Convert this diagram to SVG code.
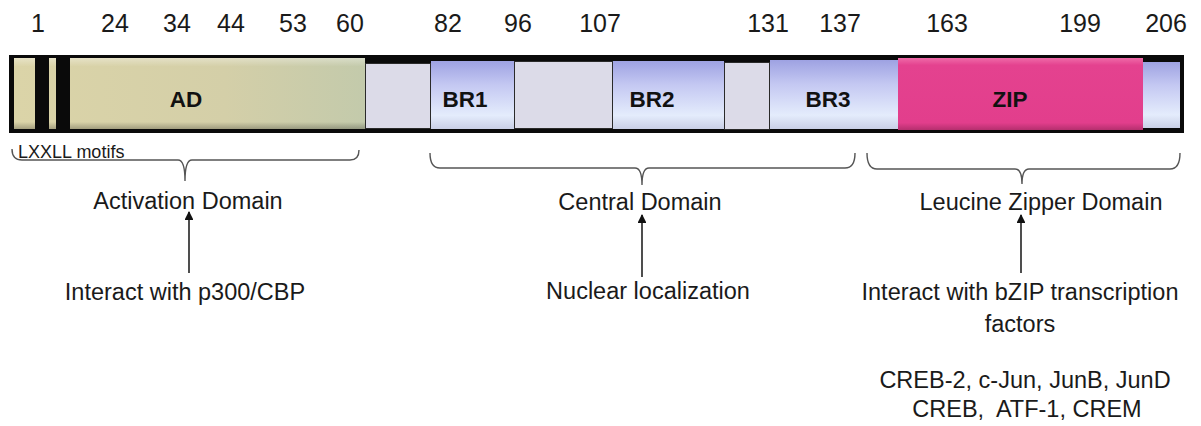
<svg xmlns="http://www.w3.org/2000/svg" width="1201" height="426" viewBox="0 0 1201 426">
<style>
.num{font-family:"Liberation Sans",Arial,sans-serif;font-size:25px;fill:#1a1a1a;text-anchor:middle}
.lbl{font-family:"Liberation Sans",Arial,sans-serif;font-size:22.5px;font-weight:bold;fill:#111;text-anchor:middle}
.txt{font-family:"Liberation Sans",Arial,sans-serif;font-size:23.5px;fill:#1a1a1a;text-anchor:middle}
.sm{font-family:"Liberation Sans",Arial,sans-serif;font-size:18px;fill:#1a1a1a}
.grey{fill:#dcdbe8;stroke:#2a2a2a;stroke-width:1}
.blue{fill:url(#gBlue)}
.brace{fill:none;stroke:#555;stroke-width:1.4}
.arr{stroke:#222;stroke-width:1.6;marker-end:url(#ah)}
</style>
<defs>
<linearGradient id="gBlue" x1="0" y1="0" x2="0" y2="1">
<stop offset="0" stop-color="#9ea2e2"/>
<stop offset="0.35" stop-color="#c4c8f2"/>
<stop offset="0.8" stop-color="#e4ecfc"/>
<stop offset="1" stop-color="#c9cfe6"/>
</linearGradient>
<linearGradient id="gAD" x1="0" y1="0" x2="1" y2="0">
<stop offset="0" stop-color="#dbd4a8"/>
<stop offset="0.6" stop-color="#d4cfa8"/>
<stop offset="1" stop-color="#c3caab"/>
</linearGradient>
<linearGradient id="gADv" x1="0" y1="0" x2="0" y2="1">
<stop offset="0" stop-color="#ffffff" stop-opacity="0.35"/>
<stop offset="0.12" stop-color="#ffffff" stop-opacity="0"/>
<stop offset="0.9" stop-color="#000000" stop-opacity="0"/>
<stop offset="1" stop-color="#000000" stop-opacity="0.25"/>
</linearGradient>
<linearGradient id="gZIP" x1="0" y1="0" x2="0" y2="1">
<stop offset="0" stop-color="#ef6aa8"/>
<stop offset="0.1" stop-color="#e4428f"/>
<stop offset="0.9" stop-color="#e23e8c"/>
<stop offset="1" stop-color="#b52f6e"/>
</linearGradient>
<marker id="ah" viewBox="0 0 10 10" refX="9" refY="5" markerWidth="6.5" markerHeight="5.5" orient="auto" markerUnits="strokeWidth">
<path d="M0,0 L10,5 L0,10 z" fill="#111"/>
</marker>
</defs>

<g id="numbers">
<text class="num" x="38" y="32">1</text>
<text class="num" x="115" y="32">24</text>
<text class="num" x="177" y="32">34</text>
<text class="num" x="231" y="32">44</text>
<text class="num" x="293" y="32">53</text>
<text class="num" x="350" y="32">60</text>
<text class="num" x="448" y="32">82</text>
<text class="num" x="518" y="32">96</text>
<text class="num" x="600" y="32">107</text>
<text class="num" x="768" y="32">131</text>
<text class="num" x="840" y="32">137</text>
<text class="num" x="947" y="32">163</text>
<text class="num" x="1080" y="32">199</text>
<text class="num" x="1166" y="32">206</text>
</g>

<g id="bar">
<rect x="9" y="55" width="1175" height="78" fill="#0a0a0a"/>
</g>

<g id="AD">
<rect x="14" y="58" width="351" height="71" fill="url(#gAD)"/>
<rect x="14" y="58" width="351" height="71" fill="url(#gADv)"/>
<rect x="35" y="56" width="14" height="76" fill="#0a0a0a"/>
<rect x="56" y="56" width="14" height="76" fill="#0a0a0a"/>
<text class="lbl" x="186" y="107">AD</text>
</g>

<g id="gap1"><rect class="grey" x="365.5" y="63.5" width="65" height="65"/></g>
<g id="BR1">
<rect class="blue" x="431" y="61" width="83" height="68"/>
<text class="lbl" x="465" y="107">BR1</text>
</g>
<g id="gap2"><rect class="grey" x="514.5" y="61.5" width="98" height="67"/></g>
<g id="BR2">
<rect class="blue" x="613" y="61" width="111" height="68"/>
<text class="lbl" x="652" y="107">BR2</text>
</g>
<g id="gap3"><rect class="grey" x="724.5" y="62.5" width="45" height="67"/></g>
<g id="BR3">
<rect class="blue" x="770" y="60" width="128" height="69"/>
<text class="lbl" x="828" y="107">BR3</text>
</g>
<g id="ZIP">
<rect x="898" y="58" width="245" height="72" fill="url(#gZIP)"/>
<text class="lbl" x="1010" y="107">ZIP</text>
</g>
<g id="Cterm"><rect class="blue" x="1143" y="62" width="37" height="66"/></g>

<g id="braces">
<path class="brace" d="M12,149 Q12,160 22,160 H178 Q185,160 185,181 Q185,160 192,160 H350 Q359,160 359,150"/>
<path class="brace" d="M430,153 Q430,168 440,168 H635 Q642,168 642,185 Q642,168 649,168 H845 Q855,168 855,153"/>
<path class="brace" d="M867,153 Q867,169 877,169 H1015 Q1022,169 1022,184 Q1022,169 1029,169 H1170 Q1180,169 1180,153"/>
</g>

<g id="labels">
<text class="sm" x="18" y="158">LXXLL motifs</text>
<text class="txt" x="188" y="209">Activation Domain</text>
<text class="txt" x="640" y="210">Central Domain</text>
<text class="txt" x="1041" y="210">Leucine Zipper Domain</text>
<text class="txt" x="185" y="300">Interact with p300/CBP</text>
<text class="txt" x="648" y="299">Nuclear localization</text>
<text class="txt" x="1020" y="300">Interact with bZIP transcription</text>
<text class="txt" x="1020" y="332">factors</text>
<text class="txt" x="1025" y="388">CREB-2, c-Jun, JunB, JunD</text>
<text class="txt" x="1027" y="417" style="white-space:pre">CREB,  ATF-1, CREM</text>
</g>

<g id="connectors">
<line class="arr" x1="189" y1="273" x2="189" y2="212"/>
<line class="arr" x1="642" y1="277" x2="642" y2="215"/>
<line class="arr" x1="1021" y1="273" x2="1021" y2="215"/>
</g>
</svg>
